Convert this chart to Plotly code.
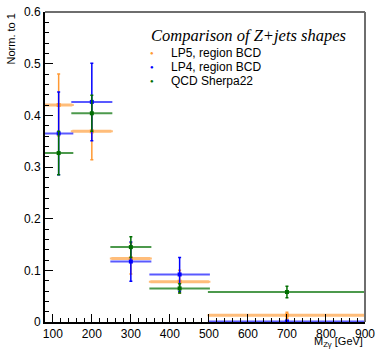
import plotly.graph_objects as go

# Binning in M_Zgamma [GeV]
bin_edges = [80, 150, 250, 350, 500, 900]

# Normalised shapes and their uncertainties per bin
series_names = ["LP5, region BCD", "LP4, region BCD", "QCD Sherpa22"]
lp5_values = [0.420, 0.369, 0.123, 0.078, 0.013]
lp5_errors = [0.060, 0.055, 0.030, 0.022, 0.006]
lp4_values = [0.365, 0.426, 0.117, 0.092, 0.001]
lp4_errors = [0.080, 0.075, 0.038, 0.033, 0.002]
qcd_values = [0.327, 0.404, 0.145, 0.065, 0.058]
qcd_errors = [0.042, 0.035, 0.020, 0.009, 0.011]

legend_title = "Comparison of Z+jets shapes"
x_title = "M<sub>Zγ</sub> [GeV]"
y_title = "Norm. to 1"

colors = ["rgb(255,153,51)", "rgb(0,0,255)", "rgb(0,110,0)"]
colors_light = ["rgba(255,153,51,0.65)", "rgba(0,0,255,0.65)", "rgba(0,110,0,0.7)"]
hbar_width = [3, 2, 2]

centers = [(a + b) / 2 for a, b in zip(bin_edges[:-1], bin_edges[1:])]
half_widths = [(b - a) / 2 for a, b in zip(bin_edges[:-1], bin_edges[1:])]

W, H = 376, 349
M = dict(l=45, r=11, t=12, b=27)
PW, PH = W - M["l"] - M["r"], H - M["t"] - M["b"]


def px(x):
    return (x - M["l"]) / PW


def py(y):
    return 1 - (y - M["t"]) / PH


fig = go.Figure()
series = [(lp5_values, lp5_errors), (lp4_values, lp4_errors), (qcd_values, qcd_errors)]
for i, (vals, errs) in enumerate(series):
    fig.add_trace(go.Scatter(
        x=centers, y=vals, mode="markers", name=series_names[i],
        marker=dict(symbol="square", size=4, color=colors[i]),
        error_x=dict(type="data", array=half_widths, symmetric=True,
                     color=colors_light[i], thickness=hbar_width[i], width=1),
        error_y=dict(type="data", array=errs, symmetric=True,
                     color=colors[i], thickness=1.5, width=1.5),
        showlegend=False,
    ))

font = "Liberation Sans, Arial, sans-serif"
P = dict(xref="paper", yref="paper", showarrow=False)
annotations = [
    dict(text="<i>" + legend_title + "</i>", x=px(149), y=py(36), xanchor="left",
         yanchor="middle",
         font=dict(family="Liberation Serif, Times New Roman, serif", size=16.5,
                   color="black"), **P),
    dict(text=y_title, x=px(10), y=1.0, xanchor="center", yanchor="top",
         textangle=-90, font=dict(family=font, size=11, color="black"), **P),
    dict(text=x_title, x=1.0, y=py(342), xanchor="right", yanchor="middle",
         font=dict(family=font, size=11, color="black"), **P),
]
for i, name in enumerate(series_names):
    yc = 52.7 + 14.3 * i
    annotations.append(dict(text="●", x=px(151.7), y=py(yc), xanchor="center",
                            yanchor="middle", font=dict(size=6, color=colors[i]),
                            **P))
    annotations.append(dict(text=name, x=px(169), y=py(yc), xanchor="left",
                            yanchor="middle",
                            font=dict(family=font, size=12, color="black"), **P))

# grey top/right frame
shapes = [
    dict(type="line", xref="paper", yref="paper", x0=0, x1=1, y0=1, y1=1,
         line=dict(color="rgb(110,110,110)", width=2)),
    dict(type="line", xref="paper", yref="paper", x0=1, x1=1, y0=0, y1=1,
         line=dict(color="rgb(110,110,110)", width=2)),
]

fig.update_layout(
    width=W, height=H, margin=dict(**M, autoexpand=False),
    paper_bgcolor="white", plot_bgcolor="white",
    font=dict(family=font, size=12, color="black"),
    annotations=annotations, shapes=shapes,
    xaxis=dict(range=[80, 900], tick0=100, dtick=100, ticks="inside", ticklen=8,
               tickwidth=1, tickcolor="black", showline=True, linecolor="black",
               linewidth=2, showgrid=False, zeroline=False, automargin=False,
               tickfont=dict(size=12), ticklabelstandoff=0,
               minor=dict(dtick=20, ticks="inside", ticklen=4, tickcolor="black",
                          showgrid=False)),
    yaxis=dict(range=[0, 0.6], tick0=0, dtick=0.1, ticks="inside", ticklen=8,
               tickwidth=1, tickcolor="black", showline=True, linecolor="black",
               linewidth=2, showgrid=False, zeroline=False, automargin=False,
               tickfont=dict(size=12),
               minor=dict(dtick=0.02, ticks="inside", ticklen=4, tickcolor="black",
                          showgrid=False)),
)

fig.write_html("out.html")
